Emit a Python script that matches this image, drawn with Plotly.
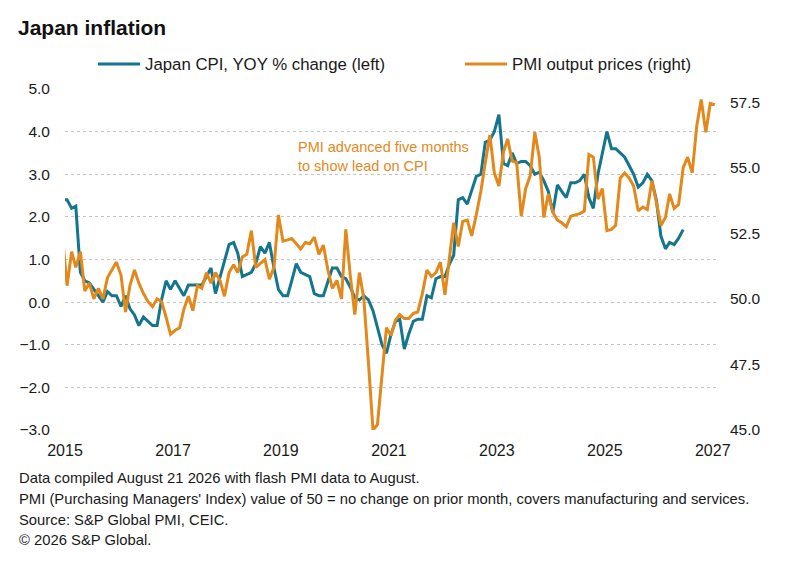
import pandas as pd
import plotly.graph_objects as go

# ---------------- data ----------------
# Japan CPI, YOY % change (left axis), monthly from Dec 2014
cpi_start = "2014-12"
cpi_values = [
    2.4,                                                                   # Dec 2014
    2.4, 2.2, 2.25, 0.7, 0.5, 0.45, 0.3, 0.15, 0.0, 0.25, 0.15, 0.15,      # 2015
    -0.1, 0.15, -0.15, -0.3, -0.55, -0.35, -0.45, -0.55, -0.55, 0.05, 0.5, 0.3,  # 2016
    0.5, 0.3, 0.15, 0.4, 0.4, 0.4, 0.4, 0.6, 0.8, 0.2, 0.6, 1.0,           # 2017
    1.35, 1.4, 1.15, 0.6, 0.65, 0.7, 0.9, 1.3, 1.15, 1.4, 0.8, 0.3,        # 2018
    0.15, 0.15, 0.5, 0.9, 0.7, 0.65, 0.6, 0.2, 0.15, 0.15, 0.5, 0.8,       # 2019
    0.8, 0.6, 0.55, 0.35, 0.1, 0.05, 0.15, 0.05, -0.2, -0.6, -1.0, -1.2,   # 2020
    -0.75, -0.45, -0.4, -1.1, -0.75, -0.45, -0.4, -0.4, 0.15, 0.1, 0.55, 0.6,  # 2021
    0.6, 0.9, 1.1, 2.4, 2.45, 2.3, 2.6, 2.95, 3.0, 3.75, 3.8, 4.0,         # 2022
    4.4, 3.25, 3.2, 3.5, 3.25, 3.3, 3.3, 3.2, 3.0, 3.05, 2.85, 2.6,        # 2023
    2.1, 2.75, 2.6, 2.45, 2.8, 2.8, 2.85, 3.0, 2.45, 2.2, 3.0, 3.5,        # 2024
    4.0, 3.6, 3.6, 3.5, 3.4, 3.2, 3.0, 2.7, 2.8, 3.0, 2.85, 2.4,           # 2025
    1.55, 1.25, 1.4, 1.35, 1.5, 1.7,                                       # 2026
]

# PMI output prices (right axis), advanced five months, monthly from Dec 2014
pmi_start = "2014-12"
pmi_values = [
    52.4,                                                                  # Dec 2014
    50.5, 51.8, 51.2, 51.8, 50.3, 50.6, 50.0, 50.4, 50.0, 50.8, 51.1, 51.4,      # 2015
    50.9, 49.5, 50.5, 51.1, 50.6, 50.2, 49.9, 49.7, 50.0, 49.9, 49.3, 48.65,     # 2016
    48.8, 48.9, 49.6, 50.1, 49.55, 50.5, 50.4, 51.0, 50.6, 51.0, 50.7, 50.1,     # 2017
    51.0, 51.3, 51.0, 51.6, 51.7, 52.6, 51.2, 51.35, 51.5, 50.75, 51.2, 53.2,    # 2018
    52.2, 52.25, 52.3, 52.1, 51.9, 52.15, 52.1, 52.35, 51.7, 52.05, 51.1, 50.4,  # 2019
    50.7, 50.0, 52.65, 50.85, 49.4, 51.0, 50.0, 47.6, 45.0, 45.2, 47.0, 48.9,    # 2020
    48.6, 49.2, 49.4, 49.25, 49.25, 49.45, 49.5, 50.2, 51.1, 50.85, 51.0, 51.4,  # 2021
    50.15, 51.5, 52.9, 52.0, 52.95, 53.0, 52.4, 53.2, 54.1, 55.2, 56.25, 54.8,   # 2022
    54.3, 55.6, 56.1, 55.25, 55.2, 53.15, 54.2, 54.7, 56.35, 55.4, 53.1, 54.0,   # 2023
    53.3, 53.0, 52.9, 52.75, 53.15, 53.2, 53.25, 53.35, 55.5, 55.4, 53.8, 54.2,  # 2024
    52.6, 52.65, 52.8, 54.6, 54.8, 54.6, 54.3, 53.35, 53.5, 53.4, 54.5, 53.7,    # 2025
    52.8, 53.1, 54.0, 53.45, 53.6, 55.0, 55.4, 54.8, 56.6, 57.6, 56.35, 57.45,   # 2026
    57.4,                                                                  # Jan 2027
]

year_ticks = ["2015", "2017", "2019", "2021", "2023", "2025", "2027"]
left_ticks = [-3, -2, -1, 0, 1, 2, 3, 4, 5]
right_ticks = [45.0, 47.5, 50.0, 52.5, 55.0, 57.5]

series_names = ["Japan CPI, YOY % change (left)", "PMI output prices (right)"]
title_text = "Japan inflation"
note_text = "PMI advanced five months<br>to show lead on CPI"
footer_lines = [
    "Data compiled August 21 2026 with flash PMI data to August.",
    "PMI (Purchasing Managers' Index) value of 50 = no change on prior month, covers manufacturing and services.",
    "Source: S&P Global PMI, CEIC.",
    "\u00a9 2026 S&P Global.",
]

# ---------------- styling ----------------
TEAL = "#14758e"
ORANGE = "#e3891c"
FONT = "Liberation Sans, Arial, sans-serif"
TXT = "#1a1a1a"

def monthly(start, n):
    return pd.date_range(start=start + "-01", periods=n, freq="MS") + pd.Timedelta(days=14)

cpi_dates = monthly(cpi_start, len(cpi_values))
pmi_dates = monthly(pmi_start, len(pmi_values))
tick_dates = [y + "-01-01" for y in year_ticks]
x_range = ["2015-01-01", "2027-01-23"]

fig = go.Figure()
fig.add_trace(go.Scatter(x=cpi_dates, y=cpi_values, name=series_names[0], mode="lines",
                         line=dict(color=TEAL, width=3), yaxis="y", xaxis="x",
                         legend="legend"))
fig.add_trace(go.Scatter(x=pmi_dates, y=pmi_values, name=series_names[1], mode="lines",
                         line=dict(color=ORANGE, width=3), yaxis="y2", xaxis="x",
                         legend="legend2"))

legend_common = dict(orientation="h", xref="container", yref="container",
                     y=1 - 64 / 577, yanchor="middle", xanchor="left", itemwidth=42,
                     font=dict(size=16.8, color=TXT, family=FONT), bgcolor="rgba(0,0,0,0)")

fig.update_layout(
    width=794, height=577,
    margin=dict(l=65, r=78, t=89, b=147, autoexpand=False),
    paper_bgcolor="white", plot_bgcolor="white",
    font=dict(family=FONT, color=TXT, size=15),
    title=dict(text="<b>" + title_text + "</b>", x=18 / 794, xref="container", xanchor="left",
               y=1 - 28 / 577, yref="container", yanchor="middle",
               font=dict(size=21, color="#111111", family=FONT)),
    showlegend=True,
    legend=dict(x=93 / 794, **legend_common),
    legend2=dict(x=460 / 794, **legend_common),
    xaxis=dict(type="date", range=x_range, tickvals=tick_dates, ticktext=year_ticks,
               showgrid=False, showline=False, zeroline=False, ticks="", automargin=False,
               ticklabelstandoff=9, tickfont=dict(size=16, color=TXT)),
    xaxis2=dict(type="date", range=x_range, overlaying="x", anchor="free", position=0.375,
                tickvals=tick_dates, showticklabels=False, ticks="outside", ticklen=5,
                tickwidth=1.5, tickcolor="#a0a0a0", showline=True, linecolor="#a6a6a6",
                linewidth=2, showgrid=False, zeroline=False, automargin=False),
    yaxis=dict(range=[-3, 5], tickvals=left_ticks, tickformat=".1f", automargin=False,
               showgrid=True, gridcolor="#c4c4c4", griddash="dot", gridwidth=1,
               zeroline=False, showline=False, ticks="", ticklabelstandoff=14,
               tickfont=dict(size=15.5, color=TXT)),
    yaxis2=dict(range=[45, 58], tickvals=right_ticks, tickformat=".1f", overlaying="y",
                side="right", showgrid=False, zeroline=False, showline=False, ticks="",
                automargin=False, ticklabelstandoff=13, tickfont=dict(size=15.5, color=TXT)),
)

fig.add_annotation(text=note_text, xref="paper", yref="paper", x=(296 - 65) / 651,
                   y=(430 - 156) / 341, xanchor="left", yanchor="middle", align="left",
                   showarrow=False, font=dict(size=14.5, color=ORANGE, family=FONT))

footer_y = [478, 499, 520, 540]
for line, yc in zip(footer_lines, footer_y):
    fig.add_annotation(text=line, xref="paper", yref="paper", x=(17 - 65) / 651,
                       y=(430 - yc) / 341, xanchor="left", yanchor="middle", align="left",
                       showarrow=False, font=dict(size=14.8, color=TXT, family=FONT))

fig.write_html("out.html", config={"displayModeBar": False},
               post_script="document.body.style.margin='0';")
